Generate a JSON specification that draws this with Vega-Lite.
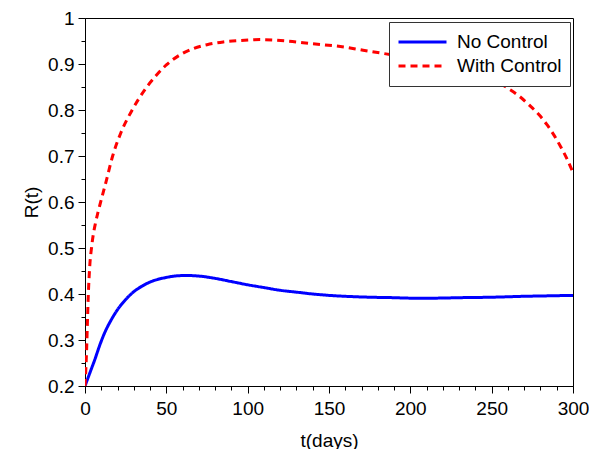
{
  "$schema": "https://vega.github.io/schema/vega-lite/v6.json",
  "width": 488,
  "height": 368,
  "autosize": "none",
  "padding": {"left": 85, "top": 18, "right": 16, "bottom": 63},
  "background": "white",
  "config": {
    "view": {"stroke": "black", "strokeWidth": 1},
    "font": "Liberation Sans",
    "axis": {"grid": false, "domainColor": "black", "tickColor": "black", "labelColor": "black", "titleColor": "black", "labelFont": "Liberation Sans", "titleFont": "Liberation Sans", "labelFontSize": 19, "titleFontSize": 19, "titleFontWeight": "normal", "domainWidth": 1, "tickWidth": 1, "labelFlush": false}
  },
  "data": {"values": [
    {"t": 0, "R": 0.2, "s": "No Control"},
    {"t": 2, "R": 0.219, "s": "No Control"},
    {"t": 4, "R": 0.238, "s": "No Control"},
    {"t": 6, "R": 0.257, "s": "No Control"},
    {"t": 9, "R": 0.288, "s": "No Control"},
    {"t": 12, "R": 0.315, "s": "No Control"},
    {"t": 16, "R": 0.343, "s": "No Control"},
    {"t": 20, "R": 0.366, "s": "No Control"},
    {"t": 25, "R": 0.388, "s": "No Control"},
    {"t": 30, "R": 0.405, "s": "No Control"},
    {"t": 35, "R": 0.417, "s": "No Control"},
    {"t": 40, "R": 0.426, "s": "No Control"},
    {"t": 45, "R": 0.432, "s": "No Control"},
    {"t": 50, "R": 0.436, "s": "No Control"},
    {"t": 55, "R": 0.439, "s": "No Control"},
    {"t": 60, "R": 0.44, "s": "No Control"},
    {"t": 65, "R": 0.44, "s": "No Control"},
    {"t": 70, "R": 0.439, "s": "No Control"},
    {"t": 80, "R": 0.434, "s": "No Control"},
    {"t": 90, "R": 0.427, "s": "No Control"},
    {"t": 100, "R": 0.42, "s": "No Control"},
    {"t": 110, "R": 0.414, "s": "No Control"},
    {"t": 120, "R": 0.408, "s": "No Control"},
    {"t": 130, "R": 0.404, "s": "No Control"},
    {"t": 140, "R": 0.4, "s": "No Control"},
    {"t": 150, "R": 0.397, "s": "No Control"},
    {"t": 160, "R": 0.395, "s": "No Control"},
    {"t": 175, "R": 0.393, "s": "No Control"},
    {"t": 190, "R": 0.392, "s": "No Control"},
    {"t": 200, "R": 0.391, "s": "No Control"},
    {"t": 215, "R": 0.391, "s": "No Control"},
    {"t": 230, "R": 0.392, "s": "No Control"},
    {"t": 250, "R": 0.393, "s": "No Control"},
    {"t": 270, "R": 0.395, "s": "No Control"},
    {"t": 285, "R": 0.396, "s": "No Control"},
    {"t": 300, "R": 0.397, "s": "No Control"},
    {"t": 0, "R": 0.2, "s": "With Control"},
    {"t": 0.5, "R": 0.235, "s": "With Control"},
    {"t": 1, "R": 0.28, "s": "With Control"},
    {"t": 1.5, "R": 0.34, "s": "With Control"},
    {"t": 2, "R": 0.395, "s": "With Control"},
    {"t": 3, "R": 0.465, "s": "With Control"},
    {"t": 4, "R": 0.5, "s": "With Control"},
    {"t": 5, "R": 0.527, "s": "With Control"},
    {"t": 6.5, "R": 0.555, "s": "With Control"},
    {"t": 8, "R": 0.578, "s": "With Control"},
    {"t": 10, "R": 0.605, "s": "With Control"},
    {"t": 13, "R": 0.645, "s": "With Control"},
    {"t": 17, "R": 0.7, "s": "With Control"},
    {"t": 22, "R": 0.75, "s": "With Control"},
    {"t": 29, "R": 0.8, "s": "With Control"},
    {"t": 38, "R": 0.85, "s": "With Control"},
    {"t": 44, "R": 0.876, "s": "With Control"},
    {"t": 50, "R": 0.898, "s": "With Control"},
    {"t": 60, "R": 0.923, "s": "With Control"},
    {"t": 67, "R": 0.934, "s": "With Control"},
    {"t": 75, "R": 0.942, "s": "With Control"},
    {"t": 85, "R": 0.948, "s": "With Control"},
    {"t": 95, "R": 0.951, "s": "With Control"},
    {"t": 108, "R": 0.953, "s": "With Control"},
    {"t": 124, "R": 0.95, "s": "With Control"},
    {"t": 140, "R": 0.944, "s": "With Control"},
    {"t": 157, "R": 0.938, "s": "With Control"},
    {"t": 171, "R": 0.93, "s": "With Control"},
    {"t": 185, "R": 0.922, "s": "With Control"},
    {"t": 200, "R": 0.914, "s": "With Control"},
    {"t": 215, "R": 0.904, "s": "With Control"},
    {"t": 230, "R": 0.891, "s": "With Control"},
    {"t": 245, "R": 0.873, "s": "With Control"},
    {"t": 255, "R": 0.858, "s": "With Control"},
    {"t": 260, "R": 0.847, "s": "With Control"},
    {"t": 267, "R": 0.83, "s": "With Control"},
    {"t": 273, "R": 0.811, "s": "With Control"},
    {"t": 279, "R": 0.79, "s": "With Control"},
    {"t": 284, "R": 0.768, "s": "With Control"},
    {"t": 288, "R": 0.747, "s": "With Control"},
    {"t": 292, "R": 0.723, "s": "With Control"},
    {"t": 296, "R": 0.696, "s": "With Control"},
    {"t": 300, "R": 0.664, "s": "With Control"}
  ]},
  "layer": [
    {
      "mark": {"type": "point", "opacity": 0},
      "encoding": {
        "x": {"field": "t", "type": "quantitative", "scale": {"domain": [0, 300], "nice": false, "zero": false},
          "axis": {"orient": "bottom", "values": [10,20,30,40,60,70,80,90,110,120,130,140,160,170,180,190,210,220,230,240,260,270,280,290], "tickSize": 4, "labels": false, "domain": false, "title": null}},
        "y": {"field": "R", "type": "quantitative", "scale": {"domain": [0.2, 1], "nice": false, "zero": false},
          "axis": {"orient": "left", "values": [0.25,0.35,0.45,0.55,0.65,0.75,0.85,0.95], "tickSize": 4, "labels": false, "domain": false, "title": null}}
      }
    },
    {
      "mark": {"type": "line", "strokeWidth": 3, "clip": true, "interpolate": "monotone"},
      "encoding": {
        "x": {"field": "t", "type": "quantitative", "scale": {"domain": [0, 300], "nice": false, "zero": false},
          "axis": {"orient": "bottom", "values": [0,50,100,150,200,250,300], "tickSize": 7, "labelPadding": 6, "title": "t(days)", "titlePadding": 13}},
        "y": {"field": "R", "type": "quantitative", "scale": {"domain": [0.2, 1], "nice": false, "zero": false},
          "axis": {"orient": "left", "values": [0.2,0.3,0.4,0.5,0.6,0.7,0.8,0.9,1], "format": "~g", "tickSize": 7, "labelPadding": 4, "title": "R(t)", "titlePadding": 6}},
        "color": {"field": "s", "type": "nominal", "scale": {"domain": ["No Control", "With Control"], "range": ["#0000ff", "#ff0000"]},
          "legend": {"title": null, "orient": "none", "legendX": 304, "legendY": 4, "direction": "vertical", "symbolType": "stroke", "symbolSize": 2304, "symbolStrokeWidth": 3, "clipHeight": 24, "rowPadding": 0, "padding": 8, "labelOffset": 9, "labelFontSize": 19, "labelFont": "Liberation Sans", "labelColor": "black", "strokeColor": "#333333", "fillColor": "white"}},
        "strokeDash": {"field": "s", "type": "nominal", "scale": {"domain": ["No Control", "With Control"], "range": [[1, 0], [7, 5]]}, "legend": null}
      }
    }
  ],
  "resolve": {"axis": {"x": "independent", "y": "independent"}}
}
